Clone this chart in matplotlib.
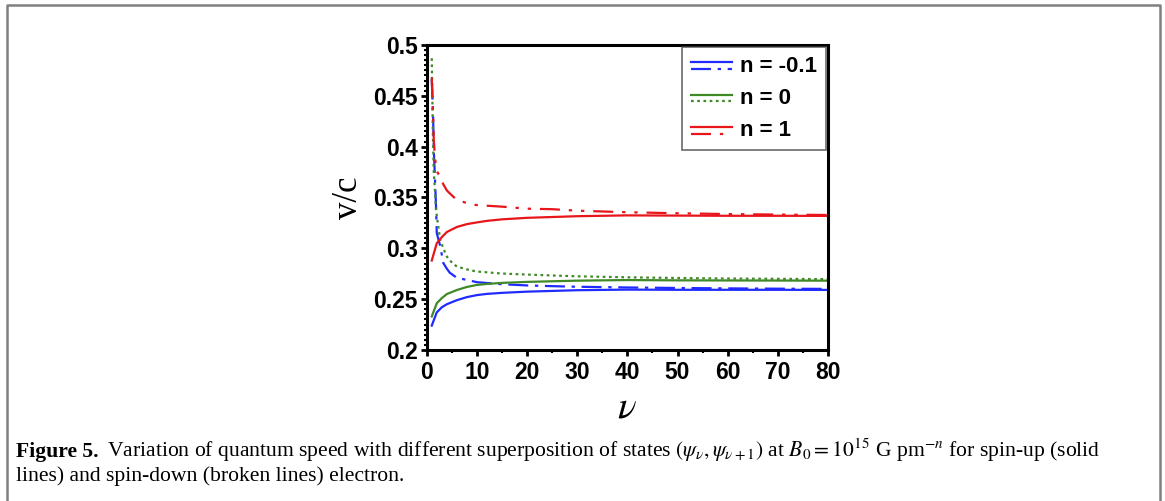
import matplotlib as mpl
mpl.use('Agg')
import matplotlib.pyplot as plt
from matplotlib.lines import Line2D
from matplotlib.legend_handler import HandlerBase
from matplotlib.ticker import MultipleLocator

plt.rcParams['font.family'] = 'Liberation Sans'
plt.rcParams['mathtext.fontset'] = 'stix'

# spin-up (solid lines)
nu_up = [1, 2, 3, 4, 6, 8, 10, 12, 15, 20, 30, 40, 50, 60, 70, 80]
up_m01 = [0.224, 0.237, 0.242, 0.245, 0.249, 0.252, 0.254, 0.2552, 0.2562, 0.2574, 0.2588, 0.2594, 0.2592, 0.2592, 0.2592, 0.2591]
up_0 = [0.233, 0.246, 0.251, 0.255, 0.259, 0.262, 0.264, 0.265, 0.266, 0.267, 0.2682, 0.2688, 0.2685, 0.2684, 0.2683, 0.2682]
up_1 = [0.288, 0.305, 0.311, 0.316, 0.321, 0.3238, 0.3255, 0.3270, 0.3285, 0.3300, 0.3316, 0.3324, 0.3322, 0.332, 0.332, 0.3319]

# spin-down (broken lines)
nu_dn = [1, 1.2, 1.3, 1.4, 1.6, 1.85, 2, 2.7, 3.3, 4, 4.6, 6, 8.6, 10, 15, 20, 25, 30, 40, 50, 60, 70, 80]
dn_m01 = [0.466, 0.44, 0.423, 0.397, 0.374, 0.341, 0.315, 0.302, 0.2856, 0.28, 0.276, 0.271, 0.2683, 0.2667, 0.2647, 0.2635, 0.2628, 0.2622, 0.2615, 0.261, 0.2606, 0.2603, 0.2601]
dn_0 = [0.487, 0.42, 0.395, 0.375, 0.36, 0.338, 0.332, 0.308, 0.300, 0.292, 0.288, 0.282, 0.2785, 0.2772, 0.2752, 0.2742, 0.2733, 0.2725, 0.2715, 0.2708, 0.2703, 0.27, 0.2697]
dn_1 = [0.468, 0.439, 0.425, 0.407, 0.392, 0.380, 0.376, 0.370, 0.363, 0.357, 0.354, 0.3476, 0.3436, 0.3425, 0.341, 0.339, 0.3385, 0.337, 0.3355, 0.3345, 0.3337, 0.3332, 0.3328]

labels = ['n = -0.1', 'n = 0', 'n = 1']
blue, green, red = '#1f2bff', '#3f8a26', '#e8151b'


class StackHandler(HandlerBase):
    # solid sample on top, broken sample underneath
    def create_artists(self, legend, orig_handle, xdescent, ydescent,
                       width, height, fontsize, trans):
        out = []
        for ln, fy in zip(orig_handle, (0.62, 0.18)):
            y = -ydescent + fy * height
            l = Line2D([-xdescent, -xdescent + width], [y, y])
            l.update_from(ln)
            l.set_transform(trans)
            out.append(l)
        return out


fig = plt.figure(figsize=(11.65, 5.01), dpi=100)
ax = fig.add_axes([0.3663, 0.3014, 0.7107 - 0.3663, 0.9102 - 0.3014])

lw = 1.6
s1, = ax.plot(nu_up, up_m01, color=blue, lw=lw)
b1, = ax.plot(nu_dn, dn_m01, color=blue, lw=lw, dashes=(9, 3, 1.5, 3))
s2, = ax.plot(nu_up, up_0, color=green, lw=lw)
b2, = ax.plot(nu_dn, dn_0, color=green, lw=lw, dashes=(1.2, 1.6))
s3, = ax.plot(nu_up, up_1, color=red, lw=lw)
b3, = ax.plot(nu_dn, dn_1, color=red, lw=lw, dashes=(9, 4, 1.5, 4, 1.5, 4))

ax.set_xlim(0, 80)
ax.set_ylim(0.2, 0.5)
ax.xaxis.set_major_locator(MultipleLocator(10))
ax.xaxis.set_minor_locator(MultipleLocator(5))
ax.yaxis.set_minor_locator(MultipleLocator(0.005))
ax.set_yticks([0.2, 0.25, 0.3, 0.35, 0.4, 0.45, 0.5])
ax.set_yticklabels(['0.2', '0.25', '0.3', '0.35', '0.4', '0.45', '0.5'])
for sp in ax.spines.values():
    sp.set_linewidth(2.2)
ax.tick_params(which='major', direction='out', length=4, width=2, labelsize=16.5)
ax.tick_params(which='minor', direction='out', length=2.5, width=1.5)
ax.tick_params(axis='y', pad=2.5)
ax.tick_params(axis='x', pad=4)
for t in ax.get_xticklabels() + ax.get_yticklabels():
    t.set_fontweight('bold')

ax.set_ylabel('v/c', family='Liberation Serif', fontsize=25, labelpad=6)
ax.set_xlabel(r'$\nu$', fontsize=28, labelpad=4)

leg = ax.legend([(s1, b1), (s2, b2), (s3, b3)], labels,
                handler_map={tuple: StackHandler()}, loc='upper right',
                borderaxespad=0.1, handlelength=1.85, handletextpad=0.35,
                labelspacing=0.5, borderpad=0.4, fancybox=False,
                prop={'weight': 'bold', 'size': 16})
leg.get_frame().set_edgecolor('#444444')
leg.get_frame().set_linewidth(1.2)

# outer frame of the figure box
fig.add_artist(Line2D([0.0060, 0.0060, 0.9957, 0.9957], [0.0, 0.991, 0.991, 0.0],
                      transform=fig.transFigure, color='#808080', lw=1.8))

# caption
r = fig.canvas.get_renderer()
cap_size = 15.6
t0 = fig.text(0.0137, 0.088, 'Figure 5.', family='Liberation Serif',
              fontweight='bold', fontsize=cap_size, va='baseline')
w0 = t0.get_window_extent(r).width / fig.bbox.width
fig.text(0.0137 + w0 + 0.007, 0.088,
         r'Variation of quantum speed with different superposition of states '
         r'$(\psi_\nu, \psi_{\nu+1})$ at $B_0 = 10^{15}$ G pm$^{-n}$ for spin-up (solid',
         family='Liberation Serif', fontsize=cap_size, va='baseline')
fig.text(0.0137, 0.040,
         'lines) and spin-down (broken lines) electron.',
         family='Liberation Serif', fontsize=cap_size, va='baseline')

fig.savefig('out.png', dpi=100)
